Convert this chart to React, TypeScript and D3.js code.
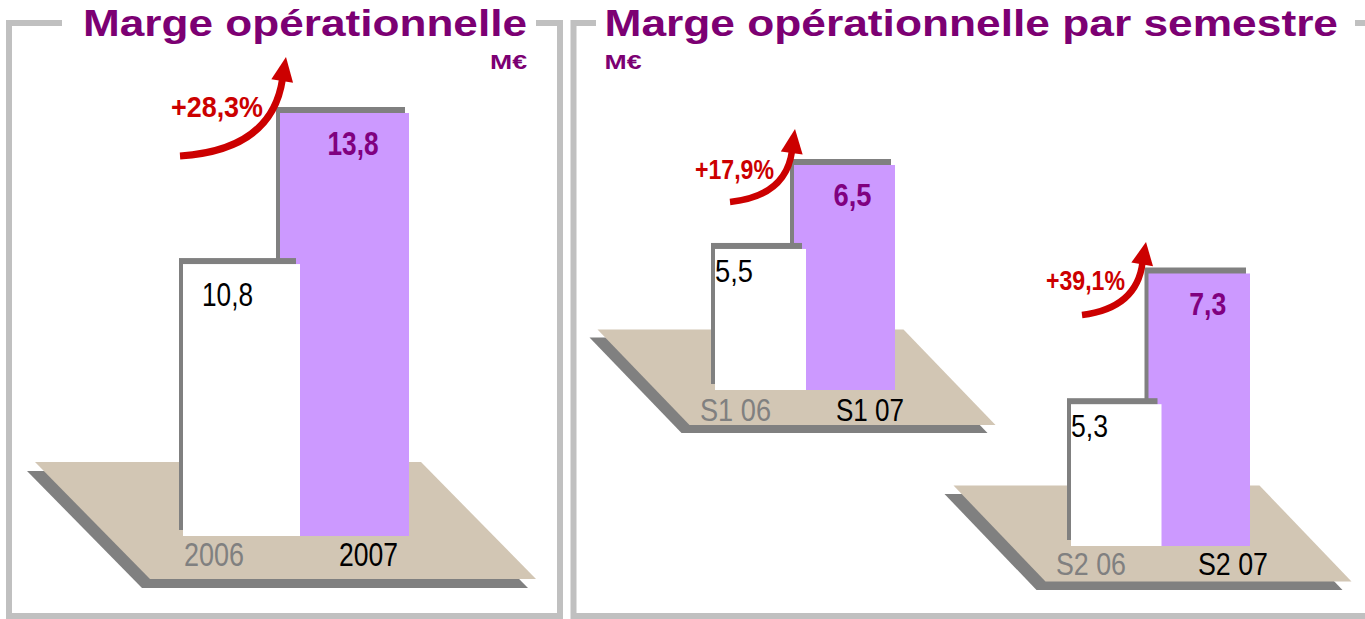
import { useEffect, useRef } from 'react';
import * as d3 from 'd3';

const panelTitles = ['Marge opérationnelle', 'Marge opérationnelle par semestre'];
const unitLabel = 'M€';

const yearCategories = ['2006', '2007'];
const yearValues = [10.8, 13.8];
const s1Categories = ['S1 06', 'S1 07'];
const s1Values = [5.5, 6.5];
const s2Categories = ['S2 06', 'S2 07'];
const s2Values = [5.3, 7.3];
const growthRates = [28.3, 17.9, 39.1];

const locale = d3.formatLocale({ decimal: ',', thousands: ' ', grouping: [3], currency: ['', ' €'] });
const fmtValue = locale.format('.1f');
const fmtGrowth = (v: number) => '+' + locale.format('.1f')(v) + '%';

const PURPLE_TEXT = '#7c0073';
const BAR_PURPLE = '#cc99ff';
const GREY = '#808080';
const FLOOR = '#d2c6b4';
const RED = '#cc0000';
const FRAME = '#c0c0c0';
const NARROW = '"Liberation Sans Narrow", "Liberation Sans", Arial, sans-serif';
const WIDE = '"Liberation Sans", Arial, sans-serif';

// layout of each small 3D-ish bar pair (positions only, values come from the arrays above)
const charts = [
  {
    categories: yearCategories, values: yearValues, growth: growthRates[0],
    domainFloor: 5.4, baseline: 536, top: 113, x0: 183, x1: 409, frontExtra: 4, backExtra: 16,
    floor: { top: 462, bottom: 579, left: 35, width: 386, skew: 115, sx: -8, sy: 9 },
    valueFont: 33.5, valueLen: [51, 51], whiteDx: 19, whiteDy: 42, purpleDx: 8.5, purpleDy: 42,
    catFont: 32.5, catDx: [1, 43], catDy: 30, catLen: [60, 59],
    growthX: 171, growthY: 117, growthFont: 29.5, growthLen: 92,
    arrow: { tail: [180, 156], ctrl: [272, 150], end: [282.5, 79], tip: [286, 57], width: 7 },
  },
  {
    categories: s1Categories, values: s1Values, growth: growthRates[1],
    domainFloor: 3.82, baseline: 390, top: 165, x0: 715, x1: 895, frontExtra: 1, backExtra: 11,
    floor: { top: 329.5, bottom: 425, left: 597.5, width: 306, skew: 92, sx: -8, sy: 8 },
    valueFont: 31.5, valueLen: [38, 38], whiteDx: 0, whiteDy: 33, purpleDx: 8, purpleDy: 41,
    catFont: 32, catDx: [-15, 31], catDy: 31, catLen: [71, 68],
    growthX: 695, growthY: 178.5, growthFont: 28, growthLen: 79,
    arrow: { tail: [730, 202], ctrl: [786, 196], end: [792, 151], tip: [795, 129], width: 6.5 },
  },
  {
    categories: s2Categories, values: s2Values, growth: growthRates[2],
    domainFloor: 3.13, baseline: 546, top: 273.5, x0: 1071, x1: 1250, frontExtra: 1, backExtra: 12,
    floor: { top: 485.5, bottom: 581.5, left: 953.5, width: 306, skew: 92, sx: -9, sy: 8.5 },
    valueFont: 31.5, valueLen: [37, 37], whiteDx: 0, whiteDy: 33, purpleDx: 8.5, purpleDy: 41,
    catFont: 32, catDx: [-15, 37.5], catDy: 29, catLen: [70, 70],
    growthX: 1046, growthY: 290, growthFont: 28, growthLen: 79,
    arrow: { tail: [1082, 315], ctrl: [1137, 308], end: [1142.5, 262.5], tip: [1146, 242], width: 6.5 },
  },
];

export default function App() {
  const ref = useRef<SVGSVGElement>(null);

  useEffect(() => {
    const svg = d3.select(ref.current);
    svg.selectAll('*').remove();

    // frames with a gap for the titles
    const frames = [
      { x: 9, y: 23, w: 551, h: 593, gap: [62, 536] },
      { x: 573.5, y: 23, w: 830, h: 593, gap: [596, 1355] },
    ];
    frames.forEach((f) => {
      svg.append('rect').attr('x', f.x).attr('y', f.y).attr('width', f.w).attr('height', f.h)
        .attr('fill', 'none').attr('stroke', FRAME).attr('stroke-width', 6);
      svg.append('rect').attr('x', f.gap[0]).attr('y', 16).attr('width', f.gap[1] - f.gap[0]).attr('height', 14)
        .attr('fill', 'white');
    });

    const titleLayout = [
      { x: 83, len: 444, unitX: 490 },
      { x: 604.5, len: 733.5, unitX: 604.5 },
    ];
    panelTitles.forEach((t, i) => {
      svg.append('text').attr('x', titleLayout[i].x).attr('y', 36).text(t)
        .attr('font-family', WIDE).attr('font-weight', 'bold').attr('font-size', 36.5)
        .attr('fill', PURPLE_TEXT).attr('textLength', titleLayout[i].len).attr('lengthAdjust', 'spacingAndGlyphs');
      svg.append('text').attr('x', titleLayout[i].unitX).attr('y', 69).text(unitLabel)
        .attr('font-family', WIDE).attr('font-weight', 'bold').attr('font-size', 20)
        .attr('fill', PURPLE_TEXT).attr('textLength', 37).attr('lengthAdjust', 'spacingAndGlyphs');
    });

    charts.forEach((c) => {
      const g = svg.append('g');
      const f = c.floor;
      const floorPts = (dx: number, dy: number) => [
        [f.left + dx, f.top + dy],
        [f.left + f.width + dx, f.top + dy],
        [f.left + f.width + f.skew + dx, f.bottom + dy],
        [f.left + f.skew + dx, f.bottom + dy],
      ].map((p) => p.join(',')).join(' ');
      g.append('polygon').attr('points', floorPts(f.sx, f.sy)).attr('fill', GREY);
      g.append('polygon').attr('points', floorPts(0, 0)).attr('fill', FLOOR);

      const x = d3.scaleBand<string>().domain(c.categories).range([c.x0, c.x1]).padding(0);
      const y = d3.scaleLinear().domain([c.domainFloor, d3.max(c.values) as number]).range([c.baseline, c.top]);
      const bw = x.bandwidth();

      const bars = c.categories.map((cat, i) => {
        const left = i === 0 ? (x(cat) as number) : (x(cat) as number) - c.backExtra;
        const width = i === 0 ? bw + c.frontExtra : bw + c.backExtra;
        return { cat, v: c.values[i], i, left, width, top: y(c.values[i]) };
      });

      // draw the later (purple) bar first, the white one sits in front of it
      [bars[1], bars[0]].forEach((b) => {
        g.append('rect').attr('x', b.left - 4).attr('y', b.top - 6).attr('width', b.width).attr('height', c.baseline - b.top)
          .attr('fill', GREY);
        g.append('rect').attr('x', b.left).attr('y', b.top).attr('width', b.width).attr('height', c.baseline - b.top)
          .attr('fill', b.i === 0 ? 'white' : BAR_PURPLE);
      });

      // value labels
      const w0 = bars[0];
      g.append('text').attr('x', w0.left + c.whiteDx).attr('y', w0.top + c.whiteDy).text(fmtValue(w0.v))
        .attr('font-family', NARROW).attr('font-size', c.valueFont).attr('fill', 'black')
        .attr('textLength', c.valueLen[0]).attr('lengthAdjust', 'spacingAndGlyphs');
      const p1 = bars[1];
      g.append('text').attr('x', p1.left + p1.width / 2 + c.purpleDx).attr('y', p1.top + c.purpleDy).text(fmtValue(p1.v))
        .attr('text-anchor', 'middle').attr('font-family', NARROW).attr('font-weight', 'bold')
        .attr('font-size', c.valueFont).attr('fill', '#800080')
        .attr('textLength', c.valueLen[1]).attr('lengthAdjust', 'spacingAndGlyphs');

      // category labels on the floor
      c.categories.forEach((cat, i) => {
        g.append('text').attr('x', (x(cat) as number) + c.catDx[i]).attr('y', c.baseline + c.catDy).text(cat)
          .attr('font-family', NARROW).attr('font-size', c.catFont).attr('fill', i === 0 ? GREY : 'black')
          .attr('textLength', c.catLen[i]).attr('lengthAdjust', 'spacingAndGlyphs');
      });

      // growth arrow
      const a = c.arrow;
      const path = d3.path();
      path.moveTo(a.tail[0], a.tail[1]);
      path.quadraticCurveTo(a.ctrl[0], a.ctrl[1], a.end[0], a.end[1]);
      g.append('path').attr('d', path.toString()).attr('fill', 'none').attr('stroke', RED).attr('stroke-width', a.width);
      const dx = a.tip[0] - a.end[0];
      const dy = a.tip[1] - a.end[1];
      const len = Math.hypot(dx, dy);
      const nx = -dy / len;
      const ny = dx / len;
      const hw = 11;
      const back = 2;
      const bx = a.end[0] - (dx / len) * back;
      const by = a.end[1] - (dy / len) * back;
      g.append('polygon')
        .attr('points', [[a.tip[0], a.tip[1]], [bx + nx * hw, by + ny * hw], [bx - nx * hw, by - ny * hw]].map((p) => p.join(',')).join(' '))
        .attr('fill', RED);

      g.append('text').attr('x', c.growthX).attr('y', c.growthY).text(fmtGrowth(c.growth))
        .attr('font-family', NARROW).attr('font-weight', 'bold').attr('font-size', c.growthFont).attr('fill', RED)
        .attr('textLength', c.growthLen).attr('lengthAdjust', 'spacingAndGlyphs');
    });
  }, []);

  return (
    <svg
      ref={ref}
      width={1365}
      height={619}
      style={{ position: 'absolute', left: 0, top: 0, background: 'white' }}
    />
  );
}
